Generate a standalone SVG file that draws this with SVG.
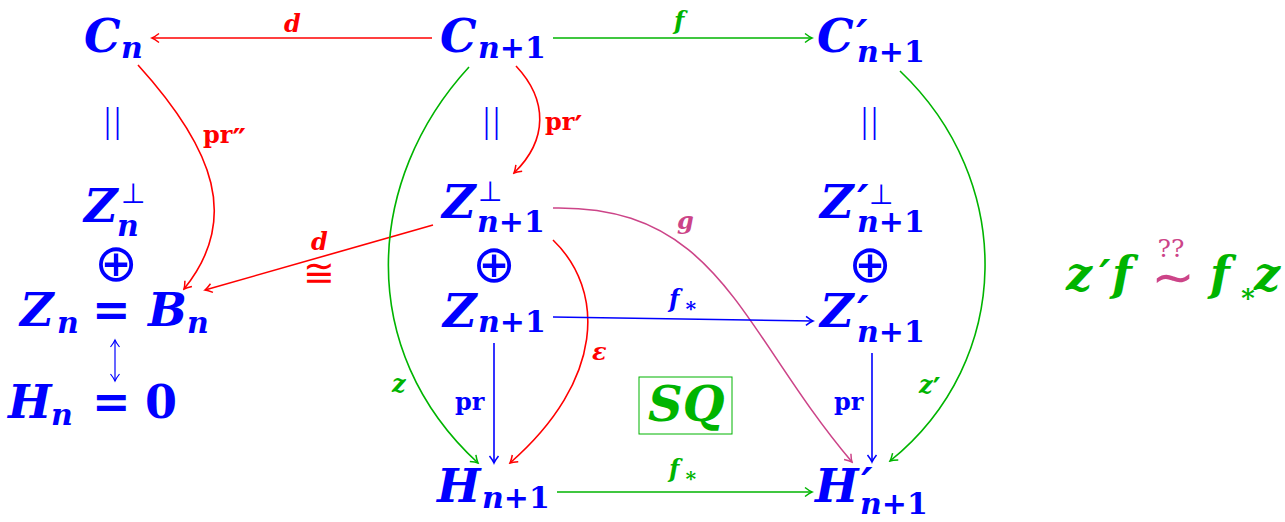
<svg xmlns="http://www.w3.org/2000/svg" width="1285" height="522" viewBox="0 0 1285 522">
<style>
text{font-family:"DejaVu Serif",serif;font-weight:bold;font-style:italic}
.m{font-size:46px;fill:#00f}
.s{font-size:30px}
.u{font-style:normal}
.pr{font-size:44px;font-style:italic}
.op{font-family:"DejaVu Sans",sans-serif;font-weight:normal;font-style:normal;font-size:52px;fill:#00f}
.perp{font-family:"DejaVu Sans",sans-serif;font-weight:normal;font-style:normal;font-size:28px}
.bar{font-family:"Liberation Serif",serif;font-weight:normal;font-style:normal;font-size:35px;fill:#00f;letter-spacing:3px}
.lr{font-size:24px;fill:#f00}
.lg{font-size:24px;fill:#00b400}
.lb{font-size:24px;fill:#00f}
.lp{font-size:24px;fill:#cc4488}
.lpr{font-size:30px;font-style:normal}
.c{fill:none;stroke-width:1.6}
.red{stroke:#f00}.grn{stroke:#00b400}.blu{stroke:#00f}.pnk{stroke:#cc4488}
</style>
<defs>
<marker id="ar" viewBox="-10 -6 12 12" refX="0" refY="0" markerWidth="12" markerHeight="12" markerUnits="userSpaceOnUse" orient="auto"><path d="M-7,-4.5 Q-2.5,-1 0,0 Q-2.5,1 -7,4.5" fill="none" stroke="#f00" stroke-width="1.5"/></marker>
<marker id="ag" viewBox="-10 -6 12 12" refX="0" refY="0" markerWidth="12" markerHeight="12" markerUnits="userSpaceOnUse" orient="auto"><path d="M-7,-4.5 Q-2.5,-1 0,0 Q-2.5,1 -7,4.5" fill="none" stroke="#00b400" stroke-width="1.5"/></marker>
<marker id="ab" viewBox="-10 -6 12 12" refX="0" refY="0" markerWidth="12" markerHeight="12" markerUnits="userSpaceOnUse" orient="auto"><path d="M-7,-4.5 Q-2.5,-1 0,0 Q-2.5,1 -7,4.5" fill="none" stroke="#00f" stroke-width="1.5"/></marker>
<marker id="ap" viewBox="-10 -6 12 12" refX="0" refY="0" markerWidth="12" markerHeight="12" markerUnits="userSpaceOnUse" orient="auto"><path d="M-7,-4.5 Q-2.5,-1 0,0 Q-2.5,1 -7,4.5" fill="none" stroke="#cc4488" stroke-width="1.5"/></marker>
<marker id="ab2" viewBox="-10 -6 12 12" refX="0" refY="0" markerWidth="12" markerHeight="12" markerUnits="userSpaceOnUse" orient="auto-start-reverse"><path d="M-7,-4.5 Q-2.5,-1 0,0 Q-2.5,1 -7,4.5" fill="none" stroke="#00f" stroke-width="1.2"/></marker>
</defs>

<g id="connectors">
<path class="c red" d="M432,38 L152,38" marker-end="url(#ar)"/>
<text class="lr" x="284" y="32">d</text>
<path class="c grn" d="M553,38 L812,38" marker-end="url(#ag)"/>
<text class="lg" x="674" y="29">f</text>
<path class="c red" d="M138,65 C215,150 240,220 184,289" marker-end="url(#ar)"/>
<text class="lr u" x="203" y="143">pr<tspan class="lpr" y="150">″</tspan></text>
<path class="c red" d="M433,225 L205,290" marker-end="url(#ar)"/>
<text class="lr" x="311" y="250">d</text>
<text x="319" y="286" text-anchor="middle" style="font-family:'DejaVu Sans',sans-serif;font-weight:normal;font-style:normal;font-size:38px;fill:#f00">≅</text>
<path class="c red" d="M516,66 C548,100 548,140 514,173" marker-end="url(#ar)"/>
<text class="lr u" x="545" y="130">pr<tspan class="lpr" y="137">′</tspan></text>
<path class="c grn" d="M469,67 C365,180 355,350 478,463" marker-end="url(#ag)"/>
<text class="lg" x="392" y="392">z</text>
<path class="c red" d="M553,240 C605,290 605,380 510,463" marker-end="url(#ar)"/>
<text class="lr" x="592" y="360">ε</text>
<path class="c pnk" d="M553,208 C720,205 740,330 852,462" marker-end="url(#ap)"/>
<text class="lp" x="677" y="229">g</text>
<path class="c blu" d="M553,317 L813,321" marker-end="url(#ab)"/>
<text class="lb" x="669" y="307">f<tspan class="u" x="684" y="312" font-size="20">∗</tspan></text>
<path class="c blu" d="M494,343 L494,463" marker-end="url(#ab)"/>
<text class="lb u" x="455" y="410">pr</text>
<path class="c grn" d="M557,492 L812,492" marker-end="url(#ag)"/>
<text class="lg" x="669" y="477">f<tspan class="u" x="684" y="482" font-size="20">∗</tspan></text>
<path class="c blu" d="M872,353 L872,462" marker-end="url(#ab)"/>
<text class="lb u" x="834" y="410">pr</text>
<path class="c grn" d="M900,71 C1015,180 1015,360 890,461" marker-end="url(#ag)"/>
<text class="lg" x="919" y="393">z<tspan class="lpr" y="399">′</tspan></text>
<path d="M115,340 L115,381" fill="none" stroke="#00f" stroke-width="1.2" marker-start="url(#ab2)" marker-end="url(#ab2)"/>
</g>

<g id="Cn"><text class="m" x="84" y="52">C<tspan class="s" x="121" y="58">n</tspan></text></g>
<g id="Cn1"><text class="m" x="440" y="52">C<tspan class="s" x="478" y="58">n</tspan><tspan class="s u">+1</tspan></text></g>
<g id="Cpn1"><text class="m" x="817" y="52">C<tspan class="pr" x="856" y="52">′</tspan><tspan class="s" x="857" y="62">n</tspan><tspan class="s u">+1</tspan></text></g>

<g id="eq1"><text class="bar" x="104" y="132">||</text></g>
<g id="eq2"><text class="bar" x="483" y="132">||</text></g>
<g id="eq3"><text class="bar" x="861" y="132">||</text></g>

<g id="Zperp"><text class="m" x="84" y="222">Z<tspan class="perp" x="121" y="203">⊥</tspan><tspan class="s" x="117" y="236">n</tspan></text></g>
<g id="oplus1"><text class="op" x="116" y="281" text-anchor="middle">⊕</text></g>
<g id="ZnBn"><text class="m" x="20" y="326">Z<tspan class="s" x="57" y="333">n</tspan><tspan class="u" x="92" y="326">=</tspan><tspan x="148">B</tspan><tspan class="s" x="187" y="333">n</tspan></text></g>
<g id="Hn0"><text class="m" x="8" y="418">H<tspan class="s" x="51" y="425">n</tspan><tspan class="u" x="92" y="418">=</tspan><tspan class="u" x="145">0</tspan></text></g>

<g id="Zperpn1"><text class="m" x="442" y="218">Z<tspan class="perp" x="478" y="201">⊥</tspan><tspan class="s" x="477" y="232">n</tspan><tspan class="s u">+1</tspan></text></g>
<g id="oplus2"><text class="op" x="494" y="282" text-anchor="middle">⊕</text></g>
<g id="Zn1"><text class="m" x="443" y="327">Z<tspan class="s" x="478" y="332">n</tspan><tspan class="s u">+1</tspan></text></g>
<g id="Hn1"><text class="m" x="437" y="502">H<tspan class="s" x="482" y="508">n</tspan><tspan class="s u">+1</tspan></text></g>

<g id="Zpperpn1"><text class="m" x="820" y="218">Z<tspan class="pr" x="857" y="217">′</tspan><tspan class="perp" x="869" y="204">⊥</tspan><tspan class="s" x="857" y="232">n</tspan><tspan class="s u">+1</tspan></text></g>
<g id="oplus3"><text class="op" x="870" y="282" text-anchor="middle">⊕</text></g>
<g id="Zpn1"><text class="m" x="820" y="327">Z<tspan class="pr" x="857" y="328">′</tspan><tspan class="s" x="857" y="342">n</tspan><tspan class="s u">+1</tspan></text></g>
<g id="Hpn1"><text class="m" x="815" y="502">H<tspan class="pr" x="861" y="500">′</tspan><tspan class="s" x="860" y="514">n</tspan><tspan class="s u">+1</tspan></text></g>

<g id="SQ"><rect x="639" y="377" width="93" height="57" fill="none" stroke="#00b400" stroke-width="1"/><text x="648" y="421" style="font-size:48px;fill:#00b400">SQ</text></g>

<g id="formula"><text x="1066" y="290" style="font-size:46px;fill:#00b400">z<tspan class="pr" x="1099" y="292">′</tspan><tspan x="1112" y="290">f</tspan></text>
<text x="1173" y="295" text-anchor="middle" style="font-family:'DejaVu Sans',sans-serif;font-size:52px;fill:#cc4488;font-style:normal;font-weight:normal">∼</text>
<text x="1171" y="257" text-anchor="middle" style="font-size:25px;fill:#cc4488;font-style:normal;font-weight:normal">??</text>
<text x="1210" y="290" style="font-size:46px;fill:#00b400">f<tspan class="u" x="1239" y="302" font-size="26">∗</tspan><tspan x="1254" y="290">z</tspan></text></g>
</svg>
